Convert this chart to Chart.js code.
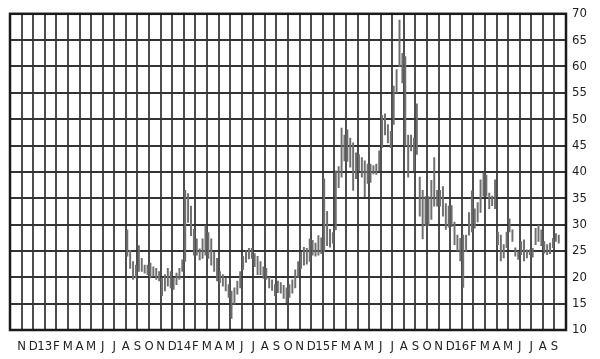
<!DOCTYPE html>
<html>
<head>
<meta charset="utf-8">
<script src="https://cdn.jsdelivr.net/npm/chart.js@4/dist/chart.umd.min.js"></script>
<style>
  html, body { margin: 0; padding: 0; background: #fff; }
  canvas { display: block; }
</style>
</head>
<body>
<canvas id="chart" width="600" height="359"></canvas>
<script>
/* Weekly high-low range, Aug 2013 – Sep 2016 */

// ─── Data ────────────────────────────────────────────────────────────────────

// one label per month gridline, Nov 2012 … Sep 2016 (gridline 1 … 47)
const monthLabels = [
  "N", "D",
  "13", "F", "M", "A", "M", "J", "J", "A", "S", "O", "N", "D",
  "14", "F", "M", "A", "M", "J", "J", "A", "S", "O", "N", "D",
  "15", "F", "M", "A", "M", "J", "J", "A", "S", "O", "N", "D",
  "16", "F", "M", "A", "M", "J", "J", "A", "S",
];

const yTicks = [10, 15, 20, 25, 30, 35, 40, 45, 50, 55, 60, 65, 70];

const firstMonth = 10;   // gridline of Aug 2013, where the bars begin
const barsPerMonth = 4;

// weekly highs, 4 per month
const weekHighs = [
  29, 25.1, 23, 22.3,          // Aug 13
  26, 23.6, 22.3, 22.3,        // Sep
  22.7, 22, 21.7, 21.1,        // Oct
  19.9, 20.5, 21.7, 21.1,      // Nov
  19.9, 20.8, 21.7, 23.3,      // Dec
  36.5, 35.9, 33.5, 29.1,      // Jan 14
  27.3, 25.4, 27.3, 29.8,      // Feb
  28.5, 27.3, 24.8, 23.6,      // Mar
  21.1, 20.5, 19.9, 18.6,      // Apr
  17.4, 18, 19.3, 21.1,        // May
  24, 25, 25.5, 25.5,          // Jun
  24.5, 24, 23, 22,            // Jul
  21.7, 20, 19.5, 18.6,        // Aug
  19.3, 19, 18.5, 18,          // Sep
  18.6, 19.5, 21.4, 23,        // Oct
  24.8, 25.7, 25.5, 27.3,      // Nov
  27, 26.5, 27.9, 27.5,        // Dec
  38.7, 32.5, 29.1, 28.5,      // Jan 15
  40.2, 41, 48.3, 47,          // Feb
  48, 46.4, 45.5, 43.6,        // Mar
  43.3, 42.7, 42.1, 41.5,      // Apr
  41.5, 41.2, 41.5, 44,        // May
  50.7, 51, 49, 47.7,          // Jun
  56.3, 59.4, 68.8, 62.5,      // Jul
  61.9, 47, 47, 46.4,          // Aug
  52.9, 39, 36.5, 35.3,        // Sep
  35.3, 38.4, 42.7, 36.5,      // Oct
  36.5, 37.2, 34, 33.5,        // Nov
  33.6, 30.5, 28, 27.4,        // Dec
  28, 28, 32.3, 36.4,          // Jan 16
  33, 34.2, 38.5, 39.8,        // Feb
  39.4, 36, 35.4, 38.5,        // Mar
  28.6, 28, 26.2, 28.6,        // Apr
  31.1, 29, 25.6, 24.9,        // May
  26.8, 27.1, 25.2, 25.2,      // Jun
  25.5, 29.3, 29.9, 29,        // Jul
  26.8, 26.2, 26.5, 27.4,      // Aug
  28.3, 28,                    // Sep
];

// weekly lows, same order
const weekLows = [
  24, 21.7, 19.6, 19.9,
  21.1, 21.1, 20.8, 20.5,
  19.9, 20.2, 19.6, 19.3,
  16.5, 17.4, 18.3, 18,
  17.7, 18.6, 19.6, 21.1,
  23, 30.4, 27.9, 24.2,
  24.2, 23.3, 23.6, 24.2,
  23.6, 22.3, 21.1, 19.3,
  19, 18.3, 17.4, 16.2,
  12.2, 14.9, 16.8, 18,
  21.5, 22.8, 23.5, 23.6,
  22, 20.5, 20.5, 19.8,
  19.6, 18, 17.5, 16.5,
  17.1, 17, 16, 15.2,
  16.2, 17, 18, 20,
  21.7, 22.3, 22.5, 23,
  24.2, 24, 24.2, 24.5,
  24.8, 26, 25.7, 26.5,
  29, 37, 39, 42.1,
  42, 40.9, 36.5, 38.7,
  40.2, 39, 35.3, 37.8,
  38, 39.6, 39.5, 40.2,
  44.6, 47, 45.5, 44.6,
  49, 55, 60, 56.9,
  45, 39, 44, 40.2,
  43.3, 31.6, 27.3, 29.8,
  29.8, 31, 33.5, 33.5,
  33.5, 31.6, 29.1, 29.5,
  29.6, 26.2, 25, 23.1,
  18.1, 24.9, 28, 28.6,
  29.3, 30.5, 32.3, 35.4,
  35.4, 33, 33.6, 33,
  26.2, 23.1, 23.7, 25.6,
  28.6, 26.8, 24, 23.4,
  24.3, 23.1, 23.7, 24.3,
  23.8, 26.2, 26.8, 26,
  24.6, 24.3, 24.5, 25.6,
  26.8, 26.5,
];

// ─── Chart ───────────────────────────────────────────────────────────────────

const FONT = "'Liberation Sans Narrow', 'DejaVu Sans Condensed', 'Roboto Condensed', 'Liberation Sans', sans-serif";
const TEXT_COLOR = "#222";

const bars = weekHighs.map((hi, i) => ({
  x: firstMonth + (i + 0.5) / barsPerMonth,
  y: [weekLows[i], hi],
}));

// heavy frame round the plot area
const framePlugin = {
  id: "frame",
  afterDraw(chart) {
    const { ctx, chartArea: a } = chart;
    ctx.save();
    ctx.strokeStyle = "#1a1a1a";
    ctx.lineWidth = 2.5;
    ctx.strokeRect(a.left, a.top, a.right - a.left, a.bottom - a.top);
    ctx.restore();
  },
};

new Chart(document.getElementById("chart"), {
  type: "bar",
  data: {
    datasets: [{
      data: bars,
      backgroundColor: "#6e6e6e",
      borderWidth: 0,
      barThickness: 1.3,
      grouped: false,
    }],
  },
  options: {
    responsive: false,
    animation: false,
    devicePixelRatio: 1,
    layout: { padding: { left: 10, top: 6, right: 0, bottom: 0 } },
    plugins: { legend: { display: false }, tooltip: { enabled: false } },
    scales: {
      x: {
        type: "linear",
        min: 0,
        max: monthLabels.length + 1,
        offset: false,
        afterFit: (s) => { s.height = 29; },
        grid: { color: "#4d4d4d", lineWidth: 2, drawTicks: false, offset: false },
        border: { display: false },
        ticks: {
          stepSize: 1,
          maxTicksLimit: 100,
          autoSkip: false,
          maxRotation: 0,
          padding: 9,
          color: TEXT_COLOR,
          font: { family: FONT, size: 13 },
          callback: (v) => monthLabels[v - 1] || "",
        },
      },
      y: {
        position: "right",
        min: yTicks[0],
        max: yTicks[yTicks.length - 1],
        afterFit: (s) => { s.width = 34; },
        afterBuildTicks: (s) => { s.ticks = yTicks.map((v) => ({ value: v })); },
        grid: { color: "#333", lineWidth: 2, drawTicks: false },
        border: { display: false },
        ticks: {
          padding: 6,
          color: TEXT_COLOR,
          font: { family: FONT, size: 13 },
        },
      },
    },
  },
  plugins: [framePlugin],
});
</script>
</body>
</html>
